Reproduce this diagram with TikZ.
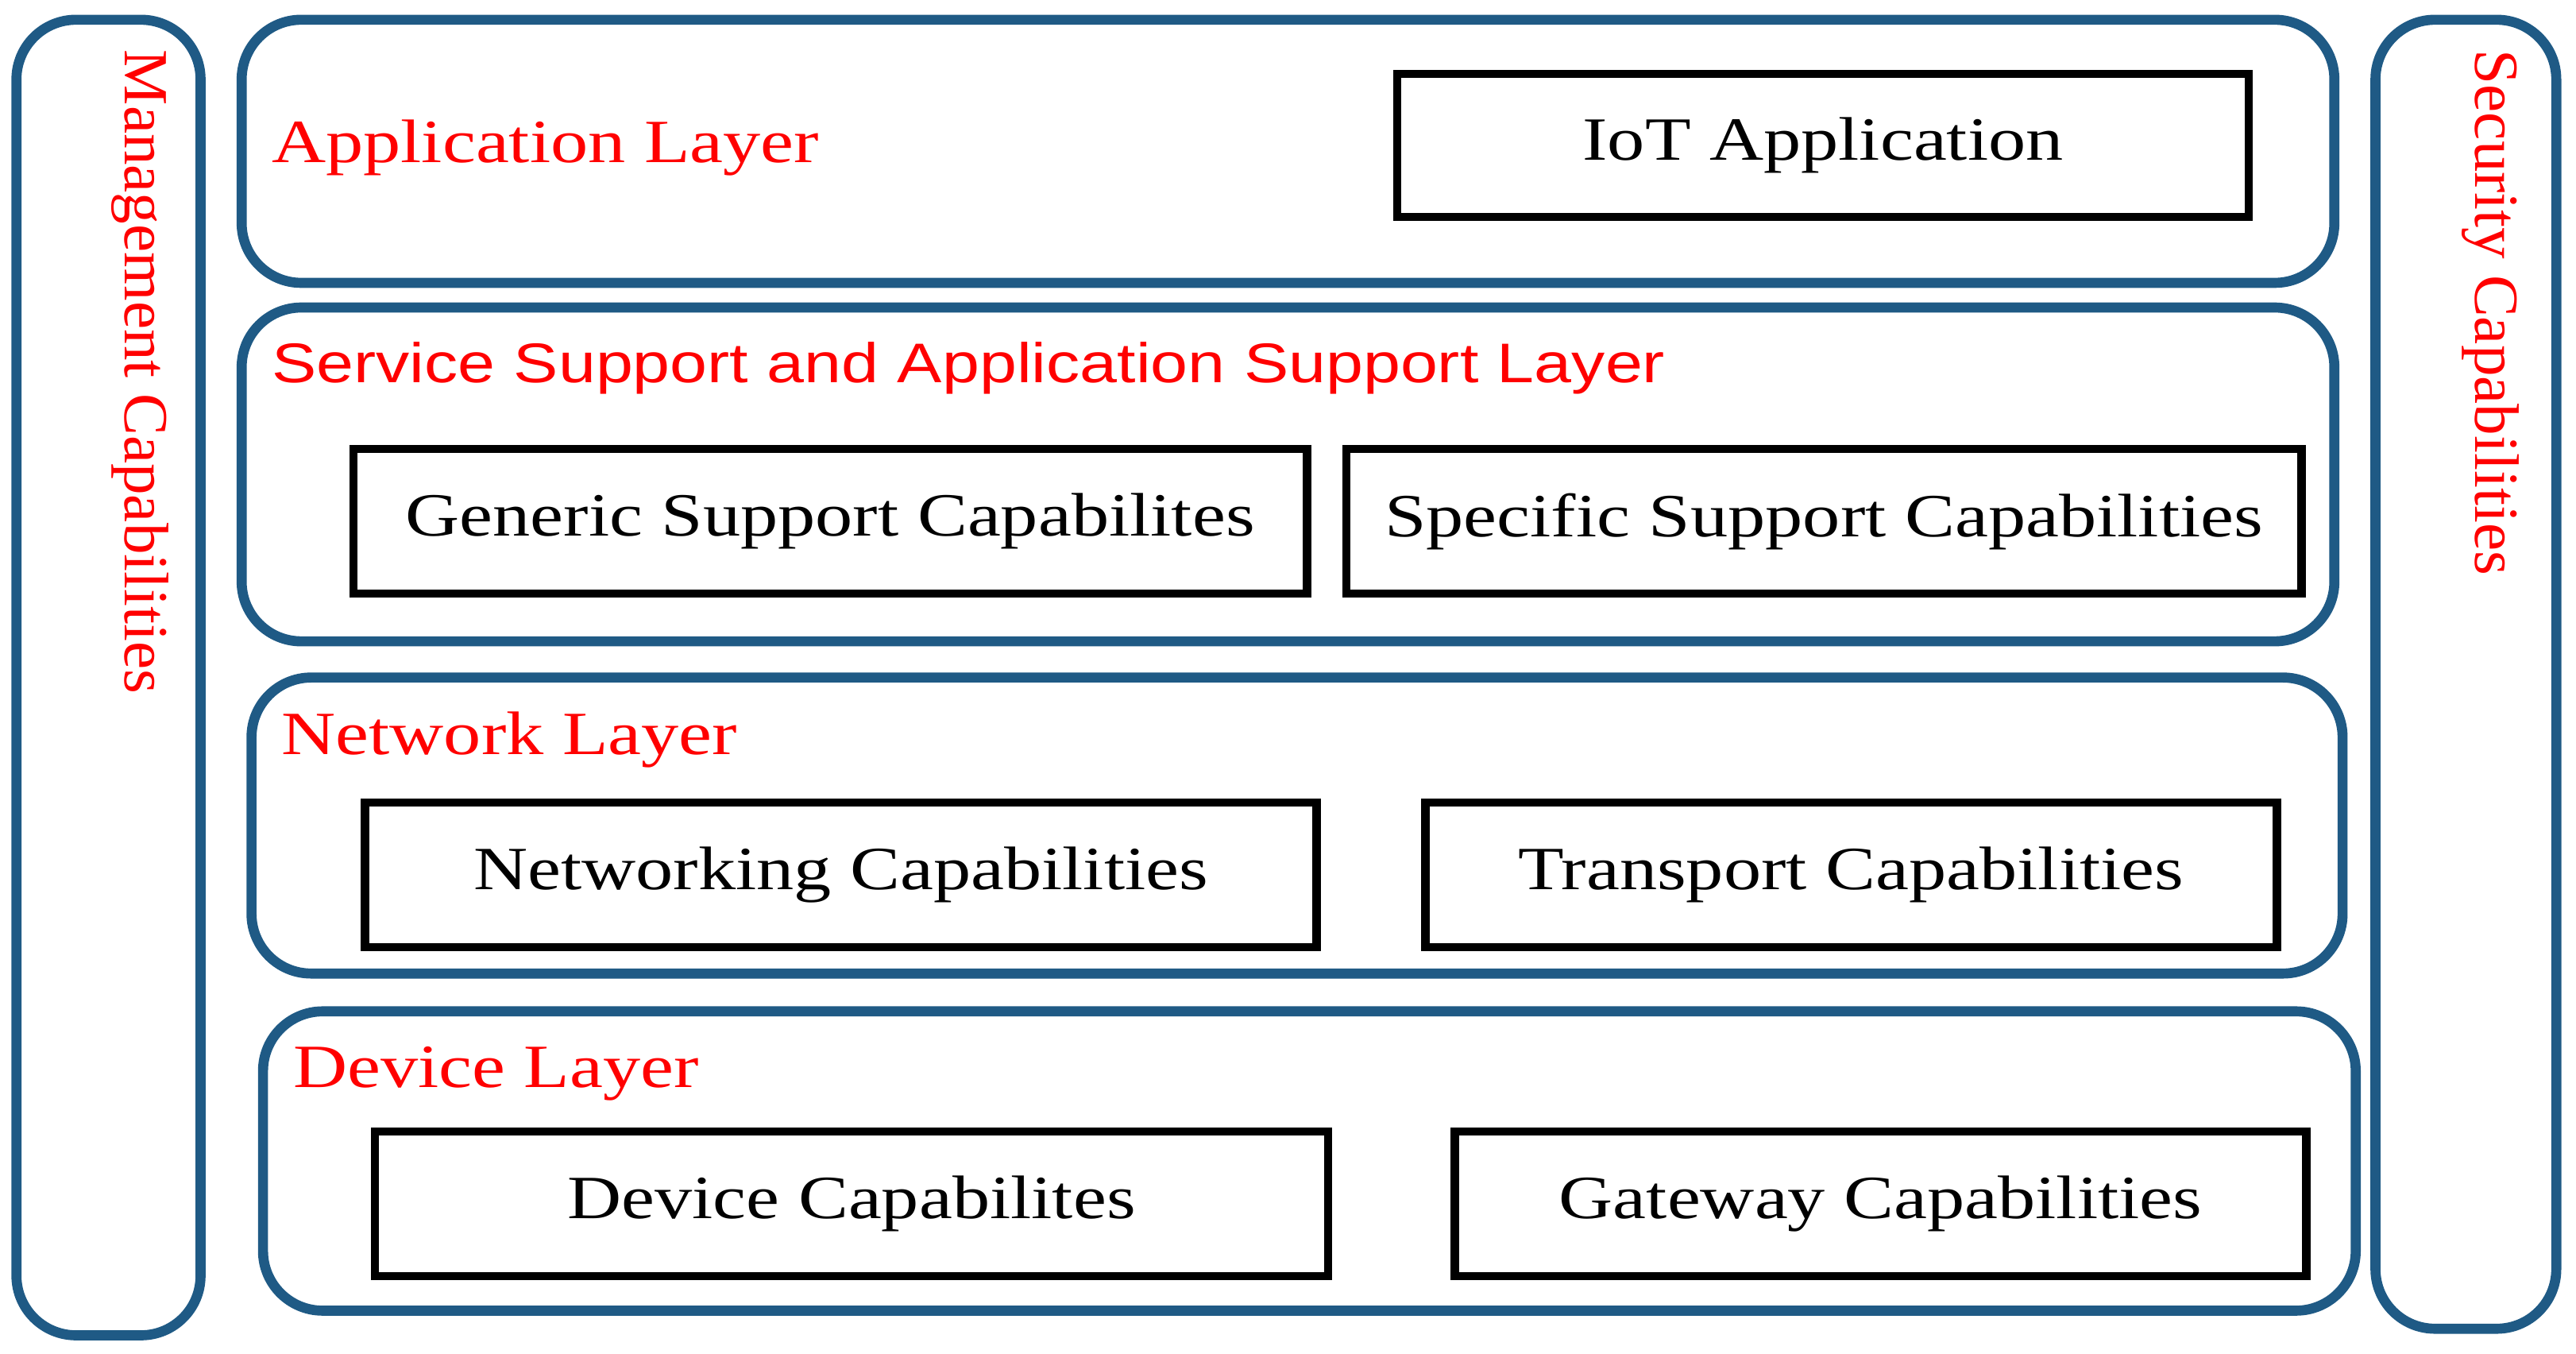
\documentclass[tikz,border=0pt]{standalone}
\usepackage{fontspec}
\setmainfont{Liberation Serif}
\newfontfamily\labsans[FakeStretch=1.2]{Liberation Sans}
\newfontfamily\wideserif[FakeStretch=1.22]{Liberation Serif}
\definecolor{lblue}{HTML}{1F5A85}
\begin{document}
\begin{tikzpicture}[x=0.020696cm,y=-0.020696cm,
  layer/.style={draw=lblue,line width=3.6pt,rounded corners=0.75cm},
  capbox/.style={draw=black,line width=3pt,font=\wideserif\fontsize{22}{24}\selectfont},
  lab/.style={text=red,font=\wideserif\fontsize{22}{24}\selectfont,anchor=west,inner sep=0pt},
  vlab/.style={text=red,font=\fontsize{22.5}{24}\selectfont,anchor=west,inner sep=0pt,rotate=-90}]
\useasboundingbox (0,0) rectangle (1567,823);
\draw[layer] (10,12) rectangle (122,812);
\draw[layer] (1445,12) rectangle (1555,808);
\node[vlab] (mc) at (85,30) {Management Capabilities};
\node[vlab] (sc) at (1515,30) {Security Capabilities};
\draw[layer] (147,12) rectangle (1420,172);
\node[lab] (al) at (165,90) {Application Layer};
\draw[capbox] (850,45) rectangle node (iot) {IoT Application} (1368,132);
\draw[layer] (147,187) rectangle (1420,390);
\node[lab,font=\labsans\fontsize{20}{24}\selectfont] (ss) at (165,224) {Service Support and Application Support Layer};
\draw[capbox] (215,273) rectangle node (g) {Generic Support Capabilites} (795,361);
\draw[capbox] (819,273) rectangle node (s) {Specific Support Capabilities} (1400,361);
\draw[layer] (153,412) rectangle (1425,592);
\node[lab] (nl) at (171,450) {Network Layer};
\draw[capbox] (222,488) rectangle node (n) {Networking Capabilities} (801,576);
\draw[capbox] (867,488) rectangle node (t) {Transport Capabilities} (1385,576);
\draw[layer] (160,615) rectangle (1433,797);
\node[lab] (dl) at (178,653) {Device Layer};
\draw[capbox] (228,688) rectangle node (d) {Device Capabilites} (808,776);
\draw[capbox] (885,688) rectangle node (gw) {Gateway Capabilities} (1403,776);
\end{tikzpicture}
\end{document}
